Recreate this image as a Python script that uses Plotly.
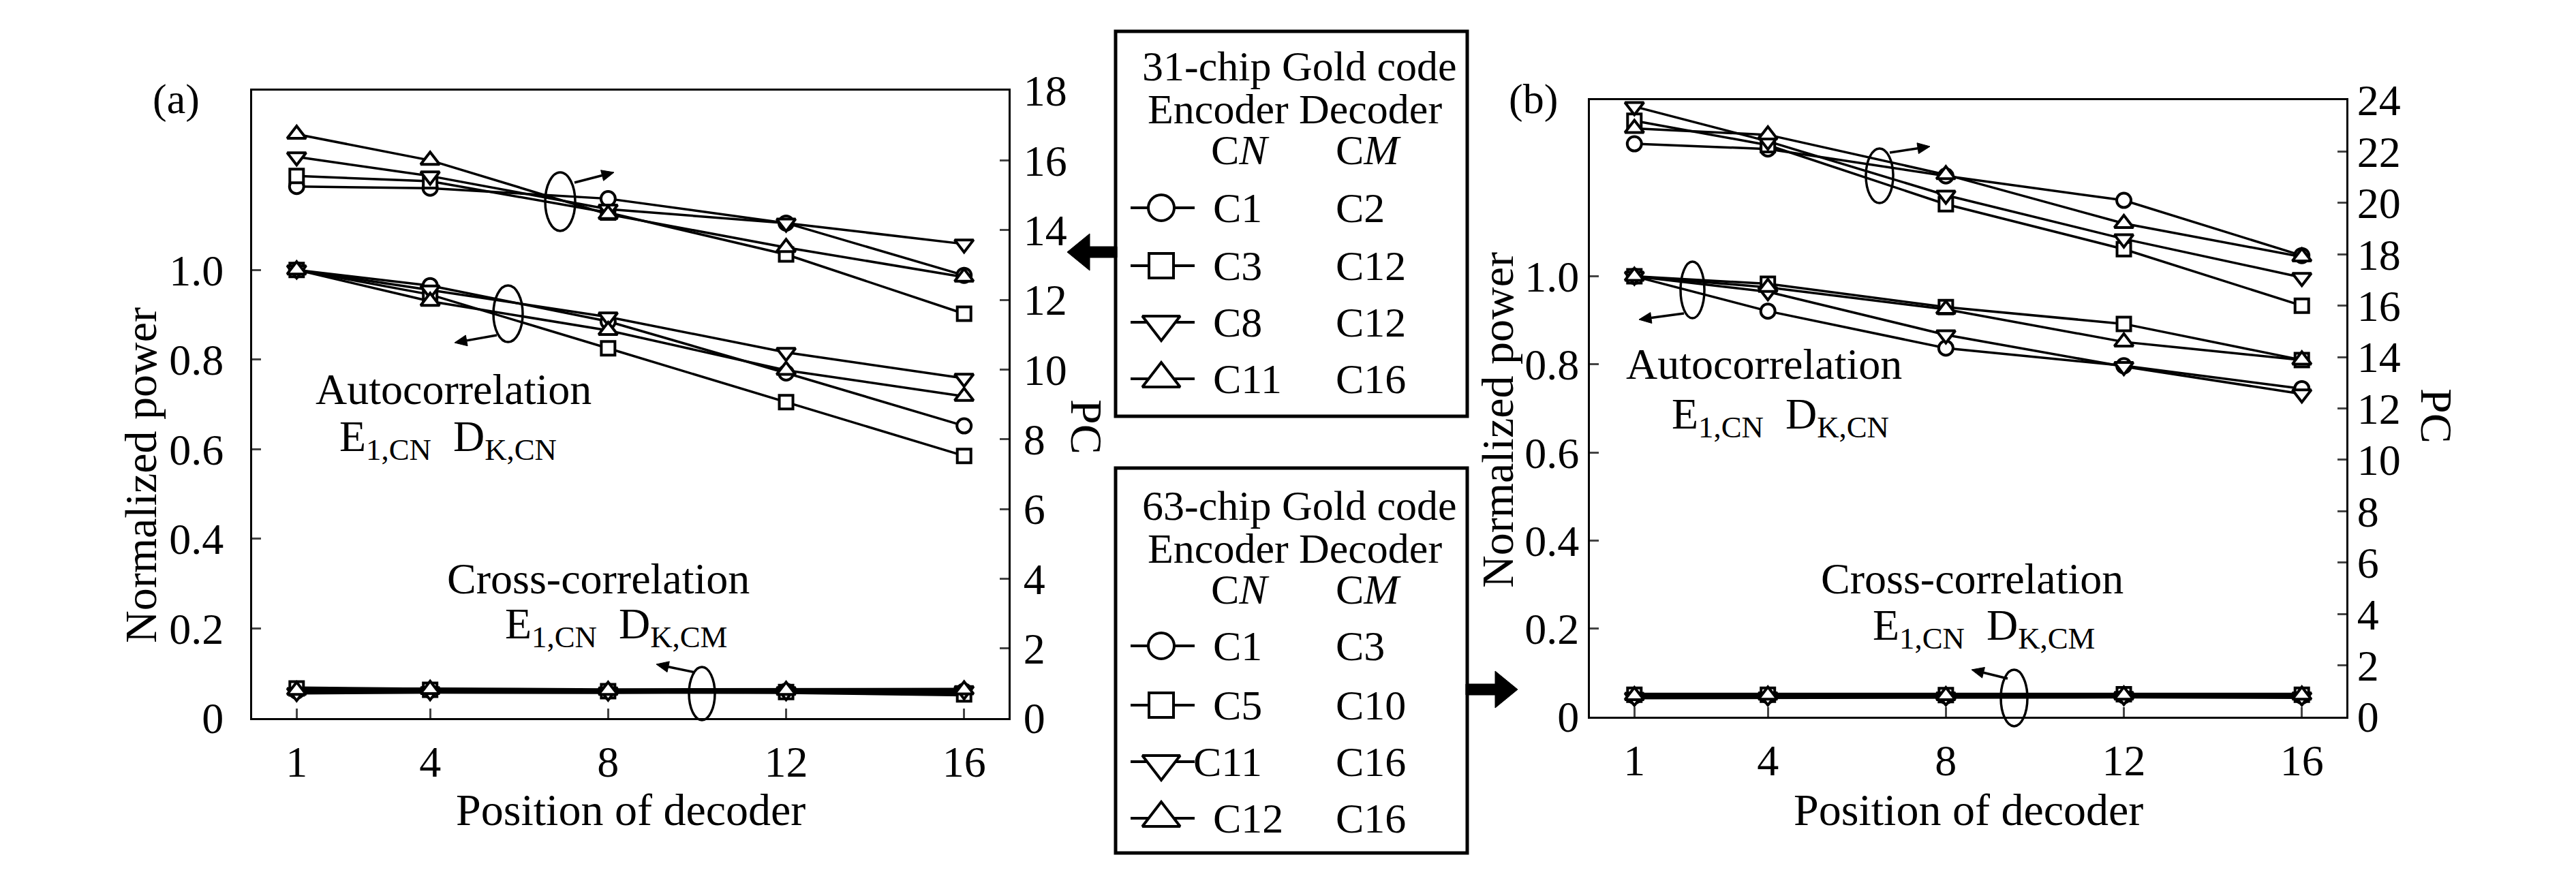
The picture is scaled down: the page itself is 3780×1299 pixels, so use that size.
import math
import plotly.graph_objects as go

W, H = 3780, 1299
FONT = "Liberation Serif"

# ---------------- data ----------------
positions = [1, 4, 8, 12, 16]
x_ticks = [1, 4, 8, 12, 16]
norm_ticks = [0, 0.2, 0.4, 0.6, 0.8, 1.0]
norm_tick_text = ["0", "0.2", "0.4", "0.6", "0.8", "1.0"]
pc_ticks_a = [0, 2, 4, 6, 8, 10, 12, 14, 16, 18]
pc_ticks_b = [0, 2, 4, 6, 8, 10, 12, 14, 16, 18, 20, 22, 24]

encoders_31 = ["C1", "C3", "C8", "C11"]
decoders_31 = ["C2", "C12", "C12", "C16"]
encoders_63 = ["C1", "C5", "C11", "C12"]
decoders_63 = ["C3", "C10", "C16", "C16"]
symbols = ["circle", "square", "triangle-down", "triangle-up"]

# panel (a): 31-chip Gold code
pc_a_c1 = [15.25, 15.2, 14.9, 14.2, 12.7]
pc_a_c3 = [15.55, 15.4, 14.5, 13.3, 11.6]
pc_a_c8 = [16.1, 15.55, 14.6, 14.2, 13.6]
pc_a_c11 = [16.75, 16.0, 14.45, 13.5, 12.65]
auto_a_c1 = [1.0, 0.965, 0.885, 0.77, 0.652]
auto_a_c3 = [1.0, 0.945, 0.825, 0.705, 0.585]
auto_a_c8 = [1.0, 0.955, 0.895, 0.816, 0.758]
auto_a_c11 = [1.0, 0.93, 0.865, 0.776, 0.718]
cross_a_c1 = [0.060, 0.062, 0.060, 0.060, 0.060]
cross_a_c3 = [0.066, 0.063, 0.060, 0.058, 0.053]
cross_a_c8 = [0.057, 0.059, 0.058, 0.059, 0.061]
cross_a_c11 = [0.062, 0.064, 0.062, 0.062, 0.063]

# panel (b): 63-chip Gold code
pc_b_c1 = [22.3, 22.1, 21.05, 20.1, 17.95]
pc_b_c5 = [23.2, 22.25, 19.95, 18.2, 16.0]
pc_b_c11 = [23.75, 22.4, 20.3, 18.6, 17.1]
pc_b_c12 = [22.9, 22.65, 21.1, 19.2, 17.9]
auto_b_c1 = [1.0, 0.921, 0.837, 0.797, 0.745]
auto_b_c5 = [1.0, 0.983, 0.93, 0.892, 0.81]
auto_b_c11 = [1.0, 0.965, 0.867, 0.795, 0.733]
auto_b_c12 = [1.0, 0.975, 0.925, 0.851, 0.81]
cross_b_c1 = [0.047, 0.048, 0.047, 0.048, 0.047]
cross_b_c5 = [0.050, 0.050, 0.049, 0.051, 0.050]
cross_b_c11 = [0.044, 0.045, 0.045, 0.046, 0.045]
cross_b_c12 = [0.048, 0.049, 0.048, 0.049, 0.049]

pc_a = [pc_a_c1, pc_a_c3, pc_a_c8, pc_a_c11]
auto_a = [auto_a_c1, auto_a_c3, auto_a_c8, auto_a_c11]
cross_a = [cross_a_c1, cross_a_c3, cross_a_c8, cross_a_c11]
pc_b = [pc_b_c1, pc_b_c5, pc_b_c11, pc_b_c12]
auto_b = [auto_b_c1, auto_b_c5, auto_b_c11, auto_b_c12]
cross_b = [cross_b_c1, cross_b_c5, cross_b_c11, cross_b_c12]


# ---------------- helpers ----------------
def px(x):
    return x / W


def py(y):
    return 1 - y / H


marker_sizes = [21, 20, 24, 24]


def series(xs, ys, sym, size, xa, ya, lw=3.5):
    return go.Scatter(
        x=xs, y=ys, mode="lines+markers", xaxis=xa, yaxis=ya,
        line=dict(color="black", width=lw),
        marker=dict(symbol=sym, size=size, color="white",
                    line=dict(color="black", width=4)),
        cliponaxis=False, showlegend=False, hoverinfo="skip",
    )


fig = go.Figure()

# cross-correlation first (underneath)
for i in range(4):
    fig.add_trace(series(positions, cross_a[i], symbols[i], marker_sizes[i], "x", "y", lw=6))
    fig.add_trace(series(positions, cross_b[i], symbols[i], marker_sizes[i], "x2", "y3", lw=6))
for i in range(4):
    fig.add_trace(series(positions, auto_a[i], symbols[i], marker_sizes[i], "x", "y"))
    fig.add_trace(series(positions, pc_a[i], symbols[i], marker_sizes[i], "x", "y2"))
    fig.add_trace(series(positions, auto_b[i], symbols[i], marker_sizes[i], "x2", "y3"))
    fig.add_trace(series(positions, pc_b[i], symbols[i], marker_sizes[i], "x2", "y4"))

tickfont = dict(family=FONT, size=64, color="black")
common_x = dict(range=[0, 17], tickvals=x_ticks, ticks="inside", ticklen=14, tickwidth=3,
                showline=True, linewidth=3, linecolor="black", mirror=True, automargin=False,
                showgrid=False, zeroline=False, tickfont=tickfont, ticklabelstandoff=6)
common_y = dict(ticks="inside", ticklen=13, tickwidth=3, showline=True, linewidth=3,
                linecolor="black", showgrid=False, zeroline=False, tickfont=tickfont,
                automargin=False)

ya_bot, ya_top = 1054, 133
yb_bot, yb_top = 1052, 147

fig.update_layout(
    width=W, height=H, autosize=False,
    margin=dict(l=0, r=0, t=0, b=0, pad=0, autoexpand=False),
    showlegend=False,
    paper_bgcolor="white", plot_bgcolor="rgba(0,0,0,0)",
    xaxis=dict(domain=[px(370), px(1480)], anchor="y", **common_x),
    yaxis=dict(domain=[py(ya_bot), py(ya_top)], anchor="x", range=[0, 1.4],
               tickvals=norm_ticks, ticktext=norm_tick_text, ticklabelstandoff=26, **common_y),
    yaxis2=dict(overlaying="y", side="right", anchor="x", range=[0, 18],
                tickvals=pc_ticks_a, ticklabelstandoff=6, **common_y),
    xaxis2=dict(domain=[px(2333), px(3443)], anchor="y3", **common_x),
    yaxis3=dict(domain=[py(yb_bot), py(yb_top)], anchor="x2", range=[0, 1.4],
                tickvals=norm_ticks, ticktext=norm_tick_text, ticklabelstandoff=0, **common_y),
    yaxis4=dict(overlaying="y3", side="right", anchor="x2", range=[0, 24],
                tickvals=pc_ticks_b, ticklabelstandoff=0, **common_y),
    xaxis3=dict(domain=[0, 1], range=[0, W], visible=False, anchor="y5", fixedrange=True,
                automargin=False),
    yaxis5=dict(domain=[0, 1], range=[H, 0], visible=False, anchor="x3", fixedrange=True,
                automargin=False),
)

annotations = []


def txt(s, x, y, size=66, xanchor="center", yanchor="middle", angle=0):
    annotations.append(dict(text=s, x=x, y=y, xref="x3", yref="y5",
                            showarrow=False, xanchor=xanchor, yanchor=yanchor,
                            textangle=angle, font=dict(family=FONT, size=size, color="black")))


# panel labels and axis titles
txt("(a)", 258, 145, 62)
txt("(b)", 2250, 145, 62)
txt("Normalized power", 206, 698, 66, angle=-90)
txt("Normalized power", 2197, 617, 66, angle=-90)
txt("PC", 1595, 626, 66, angle=90)
txt("PC", 3576, 610, 66, angle=90)
txt("Position of decoder", 925, 1188, 66)
txt("Position of decoder", 2888, 1188, 66)

# in-plot labels
txt("Autocorrelation", 665, 571, 64)
txt("E<sub>1,CN</sub>  D<sub>K,CN</sub>", 657, 645, 64)
txt("Cross-correlation", 878, 849, 64)
txt("E<sub>1,CN</sub>  D<sub>K,CM</sub>", 904, 920, 64)
txt("Autocorrelation", 2588, 534, 64)
txt("E<sub>1,CN</sub>  D<sub>K,CN</sub>", 2612, 612, 64)
txt("Cross-correlation", 2894, 849, 64)
txt("E<sub>1,CN</sub>  D<sub>K,CM</sub>", 2911, 922, 64)

# legend boxes text
box_top = dict(title="31-chip Gold code", rows=[305, 390, 473, 556], hy=[97, 160, 220])
box_bot = dict(title="63-chip Gold code", rows=[948, 1035, 1118, 1201], hy=[742, 805, 865])
for box, encs, decs in [(box_top, encoders_31, decoders_31), (box_bot, encoders_63, decoders_63)]:
    txt(box["title"], 1906, box["hy"][0], 62)
    txt("Encoder Decoder", 1900, box["hy"][1], 62)
    txt("C<i>N</i>", 1820, box["hy"][2], 62)
    txt("C<i>M</i>", 2008, box["hy"][2], 62)
    for k, (e, d) in enumerate(zip(encs, decs)):
        ex = 1749 if (box is box_bot and k == 2) else 1778
        txt(e, ex, box["rows"][k], 62, xanchor="left")
        txt(d, 1958, box["rows"][k], 62, xanchor="left")
fig.update_layout(annotations=annotations)

shapes = []
ellipses = [(800, 253, 844, 339), (724, 419, 767, 502), (1011, 979, 1049, 1057),
            (2738, 218, 2778, 298), (2466, 384, 2501, 467), (2936, 983, 2975, 1066)]
for (x0, y0, x1, y1) in ellipses:
    shapes.append(dict(type="circle", xref="x3", yref="y5", x0=x0, x1=x1,
                       y0=y0, y1=y1, line=dict(color="black", width=3.5)))
# legend frames
for (y0, y1) in [(46, 611), (687, 1252)]:
    shapes.append(dict(type="rect", xref="x3", yref="y5", x0=1637, x1=2153,
                       y0=y0, y1=y1, line=dict(color="black", width=5)))


def path(points):
    return "M " + " L ".join(f"{a:.1f},{b:.1f}" for a, b in points) + " Z"


# small arrows from the ellipses toward the relevant axis
arrows = [
    (843, 268, 901, 253), (729, 492, 667, 503), (1020, 987, 963, 975),
    (2773, 224, 2832, 215), (2471, 460, 2405, 469), (2946, 996, 2893, 983),
]
for (x0, y0, x1, y1) in arrows:
    dx, dy = x1 - x0, y1 - y0
    L = math.hypot(dx, dy)
    ux, uy = dx / L, dy / L
    hl, hw = 18, 8
    bx, by = x1 - ux * hl, y1 - uy * hl
    shapes.append(dict(type="line", xref="x3", yref="y5", x0=x0, y0=y0, x1=bx, y1=by,
                       line=dict(color="black", width=3.5)))
    shapes.append(dict(type="path", xref="x3", yref="y5",
                       path=path([(x1, y1), (bx - uy * hw, by + ux * hw), (bx + uy * hw, by - ux * hw)]),
                       fillcolor="black", line=dict(color="black", width=1)))

big_arrows = [
    [(1566, 370), (1599, 343), (1599, 362), (1639, 362), (1639, 378), (1599, 378), (1599, 397)],
    [(2227, 1012), (2194, 985), (2194, 1004), (2151, 1004), (2151, 1020), (2194, 1020), (2194, 1039)],
]
for pts in big_arrows:
    shapes.append(dict(type="path", xref="x3", yref="y5", path=path(pts),
                       fillcolor="black", line=dict(color="black", width=1)))
fig.update_layout(shapes=shapes)

# legend sample symbols (drawn on a hidden full-page pixel axis)
legend_sizes = [38, 36, 48, 48]
for rows in [box_top["rows"], box_bot["rows"]]:
    for k, yy in enumerate(rows):
        fig.add_trace(go.Scatter(x=[1659, 1753], y=[yy, yy], mode="lines", xaxis="x3", yaxis="y5",
                                 line=dict(color="black", width=4), showlegend=False,
                                 hoverinfo="skip"))
        fig.add_trace(go.Scatter(x=[1704], y=[yy + (3 if symbols[k] == "triangle-down" else 0)],
                                 mode="markers", xaxis="x3", yaxis="y5",
                                 marker=dict(symbol=symbols[k], size=legend_sizes[k], color="white",
                                             line=dict(color="black", width=4)),
                                 showlegend=False, hoverinfo="skip", cliponaxis=False))

fig.write_html("out.html", config={"displayModeBar": False, "responsive": False},
               post_script="document.body.style.margin='0px';")
